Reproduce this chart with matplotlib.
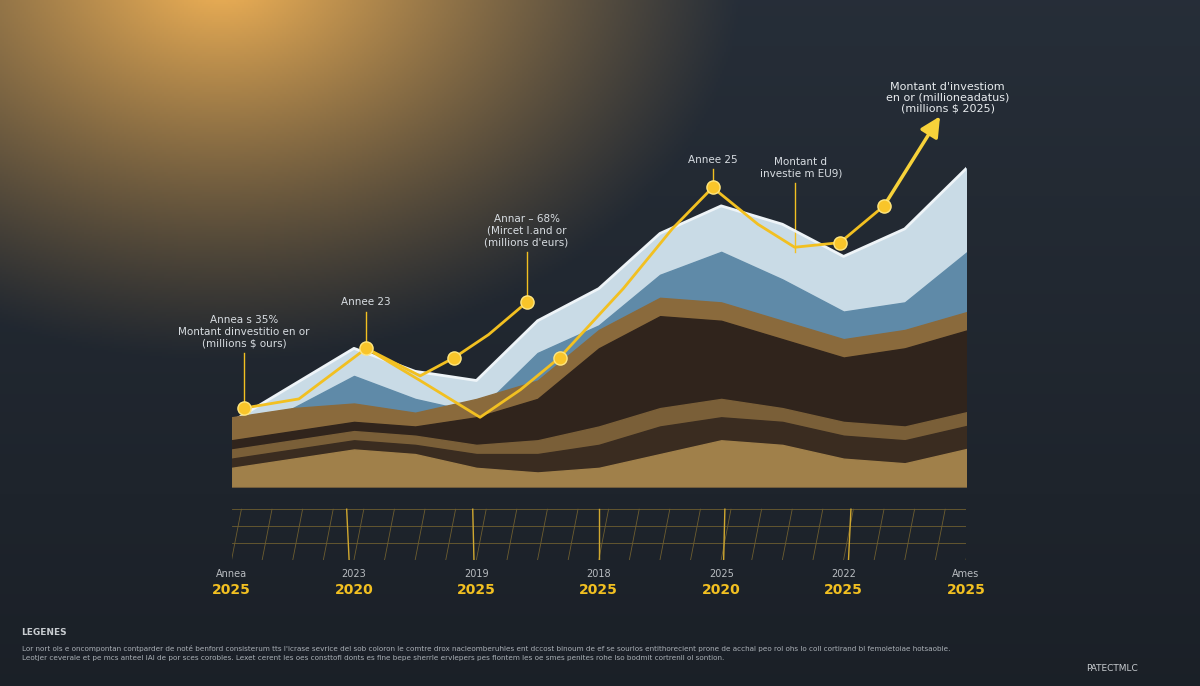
import numpy as np
import matplotlib.pyplot as plt

# ---- data ----
x_pos = [0, 0.5, 1, 1.5, 2, 2.5, 3, 3.5, 4, 4.5, 5, 5.5, 6]
tick_top = ["Annea", "2023", "2019", "2018", "2025", "2022", "Ames"]
tick_bottom = ["2025", "2020", "2025", "2025", "2020", "2025", "2025"]
white_layer = [30, 38, 46, 41, 39, 52, 59, 71, 77, 73, 66, 72, 89]
blue_layer = [26, 33, 40, 35, 32, 45, 51, 62, 67, 61, 54, 56, 70]
tan_layer = [31, 33, 34, 32, 35, 39, 50, 57, 56, 52, 48, 50, 55]
brown_layer = [26, 28, 30, 29, 31, 35, 46, 53, 52, 48, 44, 46, 51]
midgold_layer = [24, 26, 28, 27, 25, 26, 29, 33, 35, 33, 30, 29, 33]
darkband_layer = [22, 24, 26, 25, 23, 23, 25, 29, 31, 30, 27, 26, 30]
gold_layer = [20, 22, 24, 23, 20, 19, 20, 23, 26, 25, 22, 21, 25]
base_level = 16
line1_x = [0.1, 0.55, 1.1, 1.54, 1.82, 2.1, 2.41]
line1_y = [33, 35, 46, 40, 44, 49, 56]
line2_x = [1.1, 1.54, 2.03, 2.36, 2.68, 3.2, 3.6, 3.93, 4.3, 4.6, 4.97, 5.33, 5.80]
line2_y = [46, 39, 31, 37, 44, 59, 72, 81, 73, 68, 69, 77, 97]
marker_x = [0.1, 1.1, 1.82, 2.41, 2.68, 3.93, 4.97, 5.33]
marker_y = [33, 46, 44, 56, 44, 81, 69, 77]

fig = plt.figure(figsize=(12, 6.86), dpi=100)
bg = fig.add_axes([0, 0, 1, 1])
H, W = 343, 600
yy, xx = np.mgrid[0:H, 0:W]
d = np.sqrt(((xx - 110) / 260.0) ** 2 + ((yy + 10) / 190.0) ** 2)
glow = np.clip(1 - d, 0, 1) ** 1.1 * 0.95
base = np.array([0.15, 0.18, 0.22])
warm = np.array([0.98, 0.72, 0.34])
img = base[None, None, :] * (1 - glow[..., None]) + warm[None, None, :] * glow[..., None]
img = img * (1 - 0.3 * (yy / H))[..., None]
bg.imshow(img, aspect='auto', extent=[0, 1, 0, 1], origin='upper')
bg.set_xlim(0, 1); bg.set_ylim(0, 1); bg.axis('off')

ax = fig.add_axes([0.193, 0.184, 0.612, 0.67])
ax.set_xlim(0, 6); ax.set_ylim(0, 100)
ax.axis('off')
ax.patch.set_alpha(0)

xs = np.array(x_pos, dtype=float); xs[-1] = 6.15
ax.fill_between(xs, base_level, white_layer, color='#c9dbe6', zorder=2)
ax.plot(xs, white_layer, color='#eef4f8', lw=2, zorder=2.5)
ax.fill_between(xs, base_level, blue_layer, color='#5f8aa8', zorder=3)
ax.fill_between(xs, base_level, tan_layer, color='#8a6a3c', zorder=4)
ax.fill_between(xs, base_level, brown_layer, color='#30241c', zorder=5)
ax.fill_between(xs, base_level, midgold_layer, color='#7a5f38', zorder=6)
ax.fill_between(xs, base_level, darkband_layer, color='#3a2c20', zorder=6.5)
ax.fill_between(xs, base_level, gold_layer, color='#a0804a', zorder=7)

ax.plot(line1_x, line1_y, color='#f2c021', lw=2, zorder=8)
ax.plot(line2_x[:-1], line2_y[:-1], color='#f2c021', lw=2, zorder=8)
ax.annotate('', xy=(line2_x[-1], line2_y[-1]), xytext=(line2_x[-2], line2_y[-2]),
            arrowprops=dict(arrowstyle='-|>,head_width=0.6,head_length=1.2', color='#f7d23a', lw=2.5), zorder=9)
ax.scatter(marker_x, marker_y, s=90, color='#f9c52a', edgecolor='#ffe680', zorder=10)

for i in range(25):
    xb = i * 0.25
    ax.plot([xb, xb + 0.08], [0, 11], color='#6e5e30', lw=0.6, zorder=1)
for yv in [0, 3.6, 7.3, 11]:
    ax.plot([0, 6], [yv, yv], color='#6e5e30', lw=0.6, zorder=1)
for i in range(7):
    ax.plot([i - 0.02 * (3 - i), i + 0.03 * (i - 3)], [0, 11], color='#d0a830', lw=1, zorder=1)
    ax.text(i, -3, tick_top[i], color='#b8bcc0', fontsize=7, ha='center', va='center')
    ax.text(i, -6.5, tick_bottom[i], color='#f2c021', fontsize=10, fontweight='bold', ha='center', va='center')

def ann(x, y0, y1, lines, fs=7.5):
    ax.plot([x, x], [y0, y1], color='#f2c021', lw=1, zorder=7)
    ax.text(x, y1 + 1, "\n".join(lines), color='#d8dde2', fontsize=fs, ha='center', va='bottom', linespacing=1.2)
ann(0.1, 33, 45, ["Annea s 35%", "Montant dinvestitio en or", "(millions $ ours)"])
ann(1.1, 46, 54, ["Annee 23"])
ann(2.41, 56, 67, ["Annar – 68%", "(Mircet l.and or", "(millions d'eurs)"])
ann(3.93, 81, 85, ["Annee 25"])
ax.text(4.65, 83, "Montant d\ninvestie m EU9)", color='#d8dde2', fontsize=7.5, ha='center', va='bottom')
ax.plot([4.6, 4.6], [67, 82], color='#f2c021', lw=1)
ax.text(5.85, 97, "Montant d'investiom\nen or (millioneadatus)\n(millions $ 2025)", color='#e8ecef',
        fontsize=8, ha='center', va='bottom', linespacing=1.15)

fig.text(0.018, 0.075, "LEGENES", color='#c8ccd0', fontsize=6.5, fontweight='bold')
fig.text(0.018, 0.038,
         "Lor nort ols e oncompontan contparder de noté benford consisterum tts l'icrase sevrice del sob coloron le comtre drox nacleomberuhles ent dccost binoum de ef se sourlos entithorecient prone de acchal peo rol ohs lo coll cortirand bl femoletoiae hotsaoble.\n"
         "Leotjer ceverale et pe mcs anteel lAl de por sces corobles. Lexet cerent les oes consttofl donts es fine bepe sherrle ervlepers pes flontem les oe smes penites rohe lso bodmit cortrenll ol sontion.",
         color='#aab0b6', fontsize=5.2, linespacing=1.5)
fig.text(0.905, 0.022, "PATECTMLC", color='#c8ccd0', fontsize=6.5)

fig.savefig('out.png', dpi=100)
